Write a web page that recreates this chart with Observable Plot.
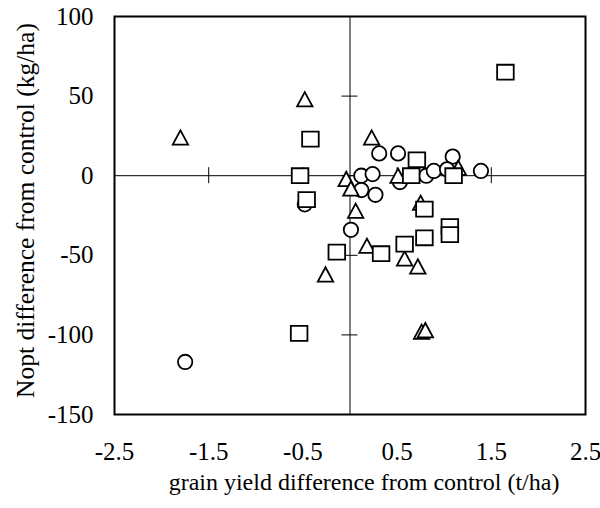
<!DOCTYPE html>
<html>
<head>
<meta charset="utf-8">
<script src="https://cdn.jsdelivr.net/npm/d3@7"></script>
<script src="https://cdn.jsdelivr.net/npm/@observablehq/plot@0.6"></script>
<style>
  body { margin: 0; background: #fff; }
  #chart svg { display: block; }
</style>
</head>
<body>
<div id="chart"></div>
<script>
// Axis ticks and titles
const xTicks = [-2.5, -1.5, -0.5, 0.5, 1.5, 2.5];
const yTicks = [100, 50, 0, -50, -100, -150];
const xTitle = "grain yield difference from control (t/ha)";
const yTitle = "Nopt difference from control (kg/ha)";

// [grain yield difference (t/ha), Nopt difference (kg/ha)]
const circles = [
  [0.31, 14], [0.51, 14], [1.09, 12], [0.12, 0], [0.24, 1],
  [0.81, 0], [0.89, 3], [1.03, 4], [1.39, 3], [0.53, -4],
  [0.12, -9], [0.27, -12], [-0.48, -18], [0.01, -34], [-1.75, -117]
];
const squares = [
  [1.65, 65], [-0.42, 23], [0.71, 10], [-0.53, 0], [0.65, 0],
  [1.10, 0], [-0.46, -15], [0.79, -21], [-0.14, -48], [0.33, -49],
  [0.58, -43], [0.79, -39], [1.06, -32], [1.06, -37], [-0.54, -99]
];
const triangles = [
  [-0.48, 48], [-1.80, 24], [0.23, 24], [-0.04, -2], [0.01, -8],
  [0.51, 0], [1.15, 5], [0.06, -22], [0.18, -44], [0.58, -52],
  [0.72, -57], [0.75, -17], [-0.26, -62], [0.76, -98], [0.80, -97]
];

// Open markers centred on their bounding box
const triangleSymbol = {
  draw(ctx, size) {
    const r = Math.sqrt(size / Math.PI), hh = r * 0.93;
    ctx.moveTo(0, -hh);
    ctx.lineTo(r, hh);
    ctx.lineTo(-r, hh);
    ctx.closePath();
  }
};
const boxSymbol = {
  draw(ctx, size) {
    const r = Math.sqrt(size / Math.PI), hh = r * 0.9;
    ctx.moveTo(-r, -hh);
    ctx.lineTo(r, -hh);
    ctx.lineTo(r, hh);
    ctx.lineTo(-r, hh);
    ctx.closePath();
  }
};

const marker = {x: d => d[0], y: d => d[1], stroke: "black", fill: "white", strokeWidth: 1.8};

const chart = Plot.plot({
  width: 600,
  height: 508,
  marginLeft: 114,
  marginRight: 15,
  marginTop: 16,
  marginBottom: 94,
  style: {
    fontFamily: "'Liberation Serif', 'Times New Roman', serif",
    fontSize: "25px",
    color: "black",
    background: "white"
  },
  x: {domain: [-2.5, 2.5], ticks: xTicks, tickSize: 0, tickPadding: 28, tickFormat: d => String(d), label: null},
  y: {domain: [-150, 100], ticks: yTicks, tickSize: 0, tickPadding: 21, tickFormat: d => String(d), label: null},
  marks: [
    // axes crossing at the origin, with tick marks across them
    Plot.ruleX([0], {stroke: "black", strokeWidth: 1}),
    Plot.ruleY([0], {stroke: "black", strokeWidth: 1}),
    Plot.ruleX(xTicks, {x: d => d, y1: () => 0, y2: () => 0, insetTop: -8, insetBottom: -8, stroke: "black", strokeWidth: 1}),
    Plot.ruleY(yTicks, {y: d => d, x1: () => 0, x2: () => 0, insetLeft: -8, insetRight: -8, stroke: "black", strokeWidth: 1}),
    // the three series
    Plot.dot(circles, {...marker, symbol: "circle", r: 7.2}),
    Plot.dot(triangles, {...marker, symbol: triangleSymbol, r: 7.7}),
    Plot.dot(squares, {...marker, symbol: boxSymbol, r: 8.3}),
    Plot.frame({stroke: "black", strokeWidth: 2}),
    // axis titles
    Plot.text([xTitle], {text: d => d, frameAnchor: "bottom", textAnchor: "middle", lineAnchor: "middle", dx: 14, dy: 68, fontSize: 24, fill: "black"}),
    Plot.text([yTitle], {text: d => d, frameAnchor: "left", textAnchor: "middle", lineAnchor: "middle", rotate: -90, dx: -89, dy: -5, fontSize: 25.5, fill: "black"})
  ]
});

document.getElementById("chart").appendChild(chart);
</script>
</body>
</html>
